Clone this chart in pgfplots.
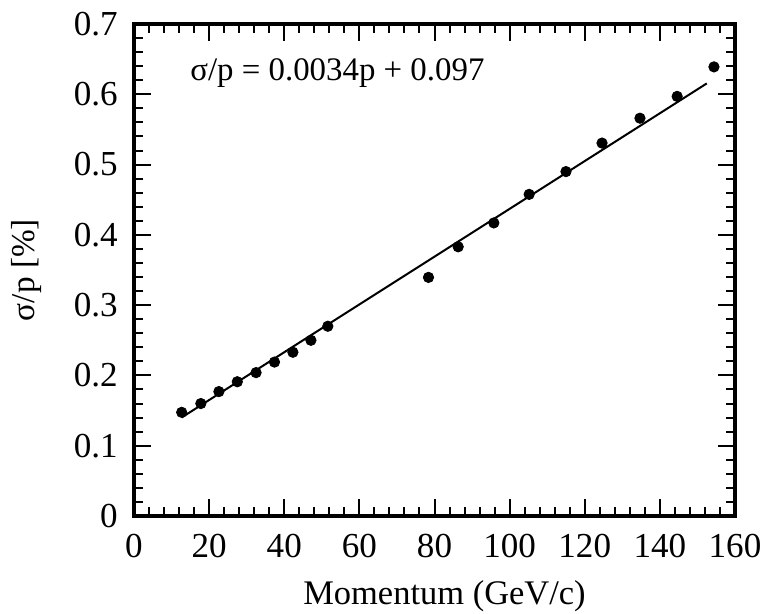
\documentclass[border=0pt]{standalone}
\usepackage{pgfplots}
\pgfplotsset{compat=1.18}
\usepackage{fontspec}
\setmainfont{Liberation Serif}
\begin{document}
\begin{tikzpicture}
\begin{axis}[
  at={(0,0)}, anchor=south west,
  scale only axis,
  width=300.5bp, height=246bp,
  xmin=0, xmax=160, ymin=0, ymax=0.7,
  xtick={0,20,...,160},
  ytick={0,0.1,...,0.7},
  minor x tick num=4,
  minor y tick num=4,
  tick align=inside,
  tick pos=both,
  major tick length=8.5bp,
  minor tick length=4.5bp,
  every tick/.style={black, line width=1bp},
  axis line style={line width=1.6bp},
  /pgf/number format/assume math mode=true,
  yticklabel style={/pgf/number format/fixed, /pgf/number format/precision=1, inner sep=0pt, anchor=east, xshift=-8bp},
  xticklabel style={inner sep=0pt, anchor=north, yshift=-9bp},
  every tick label/.append style={font=\fontsize{17.6}{20}\selectfont},
  label style={font=\fontsize{16.7}{20}\selectfont},
  xlabel={Momentum (GeV/c)},
  ylabel={σ/p [\%]},
  xlabel style={font=\fontsize{17.3}{20}\selectfont, at={([xshift=5bp]axis description cs:0.5,0)}, anchor=center, yshift=-40bp},
  ylabel style={at={([xshift=-54bp]axis description cs:0,0.5)}, anchor=center},
  clip=false,
]
\addplot[only marks, mark=*, mark size=2.6bp, black] coordinates {
(12.7,0.1475) (17.8,0.160) (22.6,0.177) (27.5,0.191) (32.5,0.204)
(37.4,0.219) (42.3,0.233) (47.1,0.250) (51.6,0.270)
(78.4,0.3395) (86.3,0.383) (95.8,0.417) (105.2,0.4576) (115.0,0.490)
(124.6,0.5306) (134.7,0.566) (144.6,0.597) (154.4,0.639)
};
\addplot[black, line width=1bp] coordinates {
(12.7,0.1402) (152.5,0.6155)
};
\node[anchor=west, inner sep=0pt, font=\fontsize{16.5}{20}\selectfont] at (axis cs:14.9,0.630) {σ/p = 0.0034p + 0.097};
\end{axis}
\pgfresetboundingbox
\path (-67bp,-49bp) rectangle (316bp,258bp);
\end{tikzpicture}
\end{document}
